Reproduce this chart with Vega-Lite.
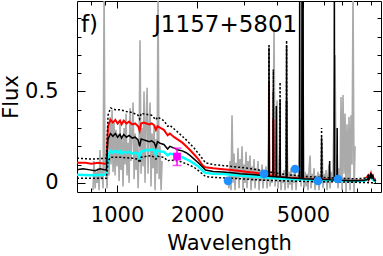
{
"$schema":"https://vega.github.io/schema/vega-lite/v6.json",
"width":304,"height":191,
"autosize":{"type":"none"},
"padding":{"left":77,"top":1,"right":2,"bottom":64},
"background":"white",
"config":{"view":{"stroke":"black","strokeWidth":1},"axis":{"grid":false,"domain":false,"tickColor":"black","tickWidth":1,"labelColor":"black","titleColor":"black","labelFont":"DejaVu Sans","titleFont":"DejaVu Sans","labelFontSize":21,"titleFontSize":21,"titleFontWeight":"normal","labelFontWeight":"normal","labelFlush":false,"labelOverlap":false}},
"datasets":{
"obs":[
{"s":"a","w":812,"f":-0.04},{"s":"a","w":819,"f":0.12},{"s":"a","w":827,"f":-0.03},{"s":"a","w":834,"f":0.06},{"s":"a","w":841,"f":0.0},{"s":"a","w":848,"f":0.08},{"s":"a","w":856,"f":-0.04},{"s":"a","w":863,"f":0.18},{"s":"a","w":871,"f":0.02},{"s":"a","w":878,"f":0.07},{"s":"a","w":886,"f":-0.03},{"s":"a","w":894,"f":1.05},{"s":"a","w":901,"f":0.04},{"s":"a","w":909,"f":0.08},{"s":"a","w":917,"f":-0.03},{"s":"a","w":925,"f":0.15},{"s":"a","w":933,"f":0.04},{"s":"a","w":941,"f":0.36},{"s":"a","w":949,"f":0.10},{"s":"a","w":958,"f":0.40},{"s":"a","w":966,"f":0.06},{"s":"a","w":974,"f":0.33},{"s":"a","w":983,"f":0.04},{"s":"a","w":991,"f":0.29},{"s":"a","w":1000,"f":0.09},{"s":"a","w":1009,"f":0.27},{"s":"a","w":1018,"f":0.01},{"s":"a","w":1026,"f":0.32},{"s":"a","w":1035,"f":0.07},{"s":"a","w":1044,"f":0.25},{"s":"a","w":1053,"f":-0.02},{"s":"a","w":1063,"f":0.30},{"s":"a","w":1072,"f":0.10},{"s":"a","w":1081,"f":0.38},{"s":"a","w":1090,"f":0.04},{"s":"a","w":1100,"f":0.22},{"s":"a","w":1110,"f":0.0},{"s":"a","w":1119,"f":0.41},{"s":"a","w":1129,"f":0.12},{"s":"a","w":1139,"f":0.28},{"s":"a","w":1149,"f":0.44},{"s":"a","w":1159,"f":0.02},{"s":"a","w":1169,"f":0.27},{"s":"a","w":1179,"f":0.07},{"s":"a","w":1189,"f":0.24},{"s":"a","w":1200,"f":-0.03},{"s":"a","w":1210,"f":0.19},{"s":"a","w":1220,"f":0.78},{"s":"a","w":1231,"f":0.05},{"s":"a","w":1242,"f":0.30},{"s":"a","w":1253,"f":0.09},{"s":"a","w":1263,"f":0.50},{"s":"a","w":1274,"f":0.0},{"s":"a","w":1286,"f":0.34},{"s":"a","w":1297,"f":0.52},{"s":"a","w":1308,"f":0.05},{"s":"a","w":1319,"f":0.29},{"s":"a","w":1331,"f":0.44},{"s":"a","w":1342,"f":-0.02},{"s":"a","w":1354,"f":0.27},{"s":"a","w":1366,"f":0.08},{"s":"a","w":1378,"f":0.31},{"s":"a","w":1390,"f":-0.04},{"s":"a","w":1402,"f":0.24},{"s":"a","w":1414,"f":0.05},{"s":"a","w":1426,"f":1.05},{"s":"a","w":1439,"f":0.02},{"s":"a","w":1451,"f":0.20},{"s":"a","w":1464,"f":-0.04},{"s":"a","w":1477,"f":0.12},
{"s":"b","w":2614,"f":0.01},{"s":"b","w":2637,"f":-0.03},{"s":"b","w":2660,"f":0.12},{"s":"b","w":2683,"f":-0.04},{"s":"b","w":2706,"f":0.37},{"s":"b","w":2730,"f":0.0},{"s":"b","w":2753,"f":0.16},{"s":"b","w":2777,"f":-0.04},{"s":"b","w":2802,"f":0.11},{"s":"b","w":2826,"f":0.02},{"s":"b","w":2850,"f":0.19},{"s":"b","w":2875,"f":-0.03},{"s":"b","w":2900,"f":0.13},{"s":"b","w":2925,"f":0.03},{"s":"b","w":2951,"f":0.20},{"s":"b","w":2977,"f":-0.04},{"s":"b","w":3002,"f":0.10},{"s":"b","w":3029,"f":0.0},{"s":"b","w":3055,"f":0.17},{"s":"b","w":3081,"f":-0.03},{"s":"b","w":3108,"f":0.12},{"s":"b","w":3135,"f":0.02},{"s":"b","w":3162,"f":0.15},{"s":"b","w":3190,"f":-0.04},{"s":"b","w":3218,"f":0.09},{"s":"b","w":3246,"f":0.01},{"s":"b","w":3274,"f":0.13},{"s":"b","w":3302,"f":-0.03},{"s":"b","w":3331,"f":0.08},{"s":"b","w":3360,"f":0.02},{"s":"b","w":3389,"f":0.12},{"s":"b","w":3419,"f":-0.04},{"s":"b","w":3449,"f":0.07},{"s":"b","w":3479,"f":0.01},{"s":"b","w":3509,"f":0.10},{"s":"b","w":3539,"f":-0.03},{"s":"b","w":3570,"f":0.06},{"s":"b","w":3601,"f":0.01},{"s":"b","w":3632,"f":0.09},{"s":"b","w":3664,"f":-0.03},{"s":"b","w":3696,"f":0.05},{"s":"b","w":3728,"f":0.30},{"s":"b","w":3760,"f":-0.02},{"s":"b","w":3793,"f":0.06},{"s":"b","w":3826,"f":0.0},{"s":"b","w":3859,"f":0.12},{"s":"b","w":3893,"f":0.84},{"s":"b","w":3927,"f":-0.02},{"s":"b","w":3961,"f":0.07},{"s":"b","w":3995,"f":0.45},{"s":"b","w":4030,"f":-0.03},{"s":"b","w":4065,"f":0.06},{"s":"b","w":4101,"f":0.20},{"s":"b","w":4136,"f":-0.04},{"s":"b","w":4172,"f":0.05},{"s":"b","w":4208,"f":0.0},{"s":"b","w":4245,"f":0.07},{"s":"b","w":4282,"f":-0.04},{"s":"b","w":4319,"f":0.04},{"s":"b","w":4357,"f":0.25},{"s":"b","w":4395,"f":-0.03},{"s":"b","w":4433,"f":0.06},{"s":"b","w":4471,"f":-0.01},{"s":"b","w":4510,"f":0.08},{"s":"b","w":4549,"f":-0.04},{"s":"b","w":4589,"f":0.05},{"s":"b","w":4629,"f":0.0},{"s":"b","w":4669,"f":0.07},{"s":"b","w":4710,"f":-0.04},{"s":"b","w":4751,"f":0.04},{"s":"b","w":4792,"f":0.01},{"s":"b","w":4834,"f":0.09},{"s":"b","w":4876,"f":0.35},{"s":"b","w":4918,"f":-0.02},{"s":"b","w":4961,"f":0.50},{"s":"b","w":5004,"f":0.60},{"s":"b","w":5048,"f":-0.03},{"s":"b","w":5091,"f":0.06},{"s":"b","w":5136,"f":-0.02},{"s":"b","w":5180,"f":0.05},{"s":"b","w":5225,"f":-0.04},{"s":"b","w":5271,"f":0.07},{"s":"b","w":5317,"f":0.15},{"s":"b","w":5363,"f":-0.03},{"s":"b","w":5409,"f":0.05},{"s":"b","w":5457,"f":0.0},{"s":"b","w":5504,"f":0.08},{"s":"b","w":5552,"f":-0.04},{"s":"b","w":5600,"f":0.04},{"s":"b","w":5649,"f":0.01},{"s":"b","w":5698,"f":0.06},{"s":"b","w":5747,"f":-0.04},{"s":"b","w":5797,"f":0.05},{"s":"b","w":5848,"f":0.02},{"s":"b","w":5899,"f":0.22},{"s":"b","w":5950,"f":-0.03},{"s":"b","w":6002,"f":0.05},{"s":"b","w":6054,"f":0.0},{"s":"b","w":6107,"f":0.07},{"s":"b","w":6160,"f":-0.04},{"s":"b","w":6213,"f":0.04},{"s":"b","w":6267,"f":0.10},{"s":"b","w":6322,"f":-0.03},{"s":"b","w":6377,"f":0.06},{"s":"b","w":6432,"f":0.01},{"s":"b","w":6488,"f":0.05},{"s":"b","w":6545,"f":0.40},{"s":"b","w":6601,"f":0.70},{"s":"b","w":6659,"f":0.02},{"s":"b","w":6717,"f":0.15},{"s":"b","w":6775,"f":-0.03},{"s":"b","w":6834,"f":0.08},{"s":"b","w":6894,"f":0.0},{"s":"b","w":6953,"f":0.47},{"s":"b","w":7014,"f":-0.04},{"s":"b","w":7075,"f":0.48},{"s":"b","w":7136,"f":0.05},{"s":"b","w":7198,"f":0.38},{"s":"b","w":7261,"f":-0.05},{"s":"b","w":7324,"f":0.32},{"s":"b","w":7388,"f":0.02},{"s":"b","w":7452,"f":0.36},{"s":"b","w":7517,"f":-0.04},{"s":"b","w":7582,"f":0.37},{"s":"b","w":7648,"f":0.10},{"s":"b","w":7715,"f":1.05},{"s":"b","w":7782,"f":-0.05},{"s":"b","w":7850,"f":0.20}
],
"red":[{"w":707,"f":0.11},{"w":760,"f":0.11},{"w":800,"f":0.105},{"w":850,"f":0.11},{"w":900,"f":0.105},{"w":912,"f":0.105},{"w":925,"f":0.31},{"w":945,"f":0.345},{"w":965,"f":0.33},{"w":985,"f":0.345},{"w":1005,"f":0.325},{"w":1026,"f":0.34},{"w":1040,"f":0.32},{"w":1060,"f":0.34},{"w":1085,"f":0.325},{"w":1110,"f":0.335},{"w":1140,"f":0.32},{"w":1170,"f":0.325},{"w":1200,"f":0.31},{"w":1216,"f":0.285},{"w":1232,"f":0.325},{"w":1260,"f":0.33},{"w":1290,"f":0.325},{"w":1320,"f":0.32},{"w":1350,"f":0.325},{"w":1380,"f":0.315},{"w":1400,"f":0.29},{"w":1420,"f":0.31},{"w":1460,"f":0.30},{"w":1500,"f":0.29},{"w":1550,"f":0.26},{"w":1580,"f":0.27},{"w":1640,"f":0.25},{"w":1700,"f":0.235},{"w":1760,"f":0.22},{"w":1820,"f":0.20},{"w":1880,"f":0.18},{"w":1950,"f":0.155},{"w":2020,"f":0.13},{"w":2100,"f":0.095},{"w":2150,"f":0.085},{"w":2300,"f":0.08},{"w":2500,"f":0.075},{"w":2700,"f":0.07},{"w":2900,"f":0.065},{"w":3100,"f":0.06},{"w":3300,"f":0.055},{"w":3500,"f":0.05},{"w":3719,"f":0.042},{"w":3727,"f":0.55},{"w":3735,"f":0.042},{"w":3861,"f":0.038},{"w":3869,"f":0.35},{"w":3877,"f":0.038},{"w":4331,"f":0.03},{"w":4340,"f":0.45},{"w":4349,"f":0.03},{"w":5000,"f":0.024},{"w":5500,"f":0.021},{"w":6000,"f":0.019},{"w":7000,"f":0.015},{"w":7500,"f":0.013},{"w":8000,"f":0.013},{"w":8500,"f":0.015},{"w":8800,"f":0.04},{"w":8850,"f":0.02},{"w":9000,"f":0.05},{"w":9050,"f":0.03},{"w":9150,"f":0.04},{"w":9250,"f":0.016},{"w":9400,"f":0.01}],
"cyan":[{"w":707,"f":0.045},{"w":800,"f":0.042},{"w":900,"f":0.045},{"w":912,"f":0.045},{"w":925,"f":0.15},{"w":945,"f":0.175},{"w":965,"f":0.165},{"w":985,"f":0.175},{"w":1005,"f":0.165},{"w":1026,"f":0.175},{"w":1040,"f":0.16},{"w":1060,"f":0.17},{"w":1085,"f":0.165},{"w":1110,"f":0.17},{"w":1140,"f":0.16},{"w":1170,"f":0.165},{"w":1200,"f":0.16},{"w":1216,"f":0.135},{"w":1232,"f":0.17},{"w":1260,"f":0.175},{"w":1290,"f":0.18},{"w":1320,"f":0.178},{"w":1350,"f":0.183},{"w":1380,"f":0.178},{"w":1400,"f":0.155},{"w":1420,"f":0.178},{"w":1460,"f":0.172},{"w":1500,"f":0.17},{"w":1550,"f":0.15},{"w":1580,"f":0.16},{"w":1640,"f":0.155},{"w":1700,"f":0.148},{"w":1760,"f":0.14},{"w":1820,"f":0.13},{"w":1880,"f":0.12},{"w":1950,"f":0.105},{"w":2020,"f":0.09},{"w":2100,"f":0.065},{"w":2150,"f":0.055},{"w":2300,"f":0.05},{"w":2500,"f":0.048},{"w":2700,"f":0.045},{"w":2900,"f":0.04},{"w":3100,"f":0.037},{"w":3300,"f":0.035},{"w":3500,"f":0.032},{"w":3700,"f":0.028},{"w":4000,"f":0.025},{"w":4500,"f":0.02},{"w":5000,"f":0.018},{"w":5500,"f":0.016},{"w":6000,"f":0.014},{"w":6500,"f":0.012},{"w":7000,"f":0.011},{"w":7500,"f":0.01},{"w":8000,"f":0.01},{"w":8500,"f":0.012},{"w":9000,"f":0.03},{"w":9250,"f":0.012},{"w":9400,"f":0.008}],
"black":[{"w":707,"f":0.071},{"w":745,"f":0.077},{"w":791,"f":0.071},{"w":827,"f":0.066},{"w":863,"f":0.077},{"w":901,"f":0.071},{"w":912,"f":0.07},{"w":925,"f":0.24},{"w":945,"f":0.27},{"w":965,"f":0.255},{"w":985,"f":0.27},{"w":1005,"f":0.25},{"w":1026,"f":0.265},{"w":1040,"f":0.245},{"w":1060,"f":0.265},{"w":1085,"f":0.25},{"w":1110,"f":0.26},{"w":1140,"f":0.245},{"w":1170,"f":0.25},{"w":1200,"f":0.235},{"w":1216,"f":0.20},{"w":1232,"f":0.24},{"w":1260,"f":0.235},{"w":1290,"f":0.23},{"w":1320,"f":0.225},{"w":1350,"f":0.23},{"w":1380,"f":0.22},{"w":1400,"f":0.195},{"w":1420,"f":0.225},{"w":1460,"f":0.215},{"w":1500,"f":0.21},{"w":1550,"f":0.185},{"w":1580,"f":0.20},{"w":1640,"f":0.19},{"w":1700,"f":0.18},{"w":1760,"f":0.175},{"w":1820,"f":0.165},{"w":1880,"f":0.15},{"w":1950,"f":0.13},{"w":2020,"f":0.11},{"w":2100,"f":0.085},{"w":2150,"f":0.07},{"w":2300,"f":0.062},{"w":2500,"f":0.06},{"w":2700,"f":0.055},{"w":2900,"f":0.05},{"w":3100,"f":0.047},{"w":3300,"f":0.045},{"w":3500,"f":0.04},{"w":3700,"f":0.036},{"w":3719,"f":0.036},{"w":3727,"f":0.74},{"w":3735,"f":0.036},{"w":3861,"f":0.034},{"w":3869,"f":0.5},{"w":3877,"f":0.034},{"w":3962,"f":0.033},{"w":3970,"f":0.42},{"w":3978,"f":0.033},{"w":4094,"f":0.032},{"w":4102,"f":0.45},{"w":4110,"f":0.032},{"w":4331,"f":0.029},{"w":4340,"f":0.75},{"w":4349,"f":0.029},{"w":4500,"f":0.026},{"w":4851,"f":0.024},{"w":4861,"f":1.2},{"w":4871,"f":0.024},{"w":4949,"f":0.023},{"w":4959,"f":1.2},{"w":4969,"f":0.023},{"w":4997,"f":0.022},{"w":5007,"f":1.2},{"w":5017,"f":0.022},{"w":5500,"f":0.02},{"w":5864,"f":0.018},{"w":5876,"f":0.25},{"w":5888,"f":0.018},{"w":6000,"f":0.018},{"w":6287,"f":0.017},{"w":6300,"f":0.12},{"w":6313,"f":0.017},{"w":6550,"f":0.016},{"w":6563,"f":1.2},{"w":6576,"f":0.016},{"w":6712,"f":0.016},{"w":6725,"f":0.3},{"w":6738,"f":0.016},{"w":7000,"f":0.014},{"w":7500,"f":0.012},{"w":8000,"f":0.012},{"w":8500,"f":0.014},{"w":8750,"f":0.018},{"w":8800,"f":0.045},{"w":8850,"f":0.02},{"w":8950,"f":0.03},{"w":9000,"f":0.055},{"w":9050,"f":0.03},{"w":9150,"f":0.04},{"w":9250,"f":0.015},{"w":9400,"f":0.01}],
"up":[{"w":707,"f":0.135},{"w":800,"f":0.13},{"w":912,"f":0.135},{"w":925,"f":0.37},{"w":945,"f":0.41},{"w":985,"f":0.40},{"w":1026,"f":0.40},{"w":1085,"f":0.39},{"w":1140,"f":0.385},{"w":1200,"f":0.37},{"w":1216,"f":0.35},{"w":1232,"f":0.38},{"w":1290,"f":0.375},{"w":1350,"f":0.37},{"w":1400,"f":0.345},{"w":1420,"f":0.36},{"w":1500,"f":0.34},{"w":1550,"f":0.31},{"w":1580,"f":0.315},{"w":1700,"f":0.275},{"w":1820,"f":0.235},{"w":1950,"f":0.19},{"w":2050,"f":0.15},{"w":2150,"f":0.11},{"w":2300,"f":0.10},{"w":2700,"f":0.09},{"w":3100,"f":0.08},{"w":3500,"f":0.068},{"w":3719,"f":0.06},{"w":3727,"f":0.76},{"w":3735,"f":0.06},{"w":3861,"f":0.056},{"w":3869,"f":0.62},{"w":3877,"f":0.056},{"w":4094,"f":0.05},{"w":4102,"f":0.55},{"w":4110,"f":0.05},{"w":4331,"f":0.045},{"w":4340,"f":0.78},{"w":4349,"f":0.045},{"w":5000,"f":0.036},{"w":5864,"f":0.03},{"w":5876,"f":0.3},{"w":5888,"f":0.03},{"w":7000,"f":0.025},{"w":8000,"f":0.022},{"w":9000,"f":0.03},{"w":9400,"f":0.02}],
"lo":[{"w":707,"f":0.025},{"w":912,"f":0.025},{"w":925,"f":0.12},{"w":945,"f":0.14},{"w":1026,"f":0.14},{"w":1140,"f":0.135},{"w":1200,"f":0.13},{"w":1216,"f":0.11},{"w":1232,"f":0.14},{"w":1350,"f":0.15},{"w":1400,"f":0.13},{"w":1420,"f":0.145},{"w":1500,"f":0.14},{"w":1550,"f":0.12},{"w":1580,"f":0.125},{"w":1700,"f":0.12},{"w":1820,"f":0.105},{"w":1950,"f":0.085},{"w":2050,"f":0.06},{"w":2150,"f":0.035},{"w":2300,"f":0.03},{"w":2700,"f":0.025},{"w":3500,"f":0.015},{"w":5000,"f":0.008},{"w":7000,"f":0.005},{"w":9400,"f":0.0}],
"phot":[{"w":2614,"f":0.011},{"w":3570,"f":0.049},{"w":4669,"f":0.076},{"w":5698,"f":0.011},{"w":6775,"f":0.021}],
"fuv":[{"w":1681,"f":0.144,"lo":0.095,"hi":0.19}],
"lab":[{"w":732,"f":0.825,"t":"f)"},{"w":1378,"f":0.825,"t":"J1157+5801"}]
},
"encoding":{
"x":{"field":"w","type":"quantitative","scale":{"type":"log","domain":[707,9828],"nice":false},"axis":null},
"y":{"field":"f","type":"quantitative","scale":{"domain":[-0.05,0.995],"nice":false,"zero":false},"axis":null}
},
"resolve":{"axis":{"x":"independent","y":"independent"}},
"layer":[
{"data":{"name":"obs"},"mark":{"type":"line","color":"#aaaaaa","strokeWidth":1.6,"clip":true},
"encoding":{"detail":{"field":"s"},
"x":{"field":"w","type":"quantitative","scale":{"type":"log","domain":[707,9828],"nice":false},
"axis":{"orient":"bottom","values":[800,900,1000,2000,3000,4000,5000,6000,7000,8000,9000],"labelExpr":"(datum.value==1000||datum.value==2000||datum.value==5000)?format(datum.value,'d'):''","tickSize":{"condition":{"test":"datum.value==1000||datum.value==2000||datum.value==5000","value":-7},"value":-4},"labelPadding":19,"title":"Wavelength","titlePadding":4}},
"y":{"field":"f","type":"quantitative","scale":{"domain":[-0.05,0.995],"nice":false,"zero":false},
"axis":{"orient":"left","values":[0,0.1,0.2,0.3,0.4,0.5,0.6,0.7,0.8,0.9],"labelExpr":"datum.value==0?'0':(datum.value==0.5?'0.5':'')","tickSize":{"condition":{"test":"datum.value==0||datum.value==0.5","value":-8},"value":-4},"labelPadding":27,"title":"Flux","titlePadding":3}}}},
{"data":{"name":"red"},"mark":{"type":"line","color":"#ff0000","strokeWidth":2,"clip":true}},
{"data":{"name":"cyan"},"mark":{"type":"line","color":"#00ffff","strokeWidth":2.5,"clip":true}},
{"data":{"name":"up"},"mark":{"type":"line","color":"black","strokeWidth":1.5,"strokeDash":[2,2],"clip":true}},
{"data":{"name":"lo"},"mark":{"type":"line","color":"black","strokeWidth":1.5,"strokeDash":[2,2],"clip":true}},
{"data":{"name":"black"},"mark":{"type":"line","color":"black","strokeWidth":1.5,"clip":true},
"encoding":{
"x":{"field":"w","type":"quantitative","scale":{"type":"log","domain":[707,9828],"nice":false},
"axis":{"orient":"top","values":[800,900,1000,2000,3000,4000,5000,6000,7000,8000,9000],"labels":false,"title":null,"tickSize":{"condition":{"test":"datum.value==1000||datum.value==2000||datum.value==5000","value":-7},"value":-4}}},
"y":{"field":"f","type":"quantitative","scale":{"domain":[-0.05,0.995],"nice":false,"zero":false},
"axis":{"orient":"right","values":[0,0.1,0.2,0.3,0.4,0.5,0.6,0.7,0.8,0.9],"labels":false,"title":null,"tickSize":{"condition":{"test":"datum.value==0||datum.value==0.5","value":-8},"value":-4}}}}},
{"data":{"name":"fuv"},"mark":{"type":"rule","color":"#ff00ff","strokeWidth":1.5},
"encoding":{"y":{"field":"lo","type":"quantitative","scale":{"domain":[-0.05,0.995],"nice":false,"zero":false},"axis":null},"y2":{"field":"hi"}}},
{"data":{"name":"fuv"},"mark":{"type":"tick","color":"#ff00ff","orient":"horizontal","size":9,"thickness":1.5},
"encoding":{"y":{"field":"lo","type":"quantitative","scale":{"domain":[-0.05,0.995],"nice":false,"zero":false},"axis":null}}},
{"data":{"name":"fuv"},"mark":{"type":"tick","color":"#ff00ff","orient":"horizontal","size":9,"thickness":1.5},
"encoding":{"y":{"field":"hi","type":"quantitative","scale":{"domain":[-0.05,0.995],"nice":false,"zero":false},"axis":null}}},
{"data":{"name":"fuv"},"mark":{"type":"point","shape":"square","filled":true,"size":60,"color":"#ff00ff","opacity":1}},
{"data":{"name":"phot"},"mark":{"type":"point","shape":"circle","filled":true,"size":75,"color":"#1e90ff","opacity":1}},
{"data":{"name":"lab"},"mark":{"type":"text","align":"left","baseline":"alphabetic","font":"DejaVu Sans","fontSize":23,"fontWeight":"normal","color":"black"},
"encoding":{"text":{"field":"t"}}}
]
}
